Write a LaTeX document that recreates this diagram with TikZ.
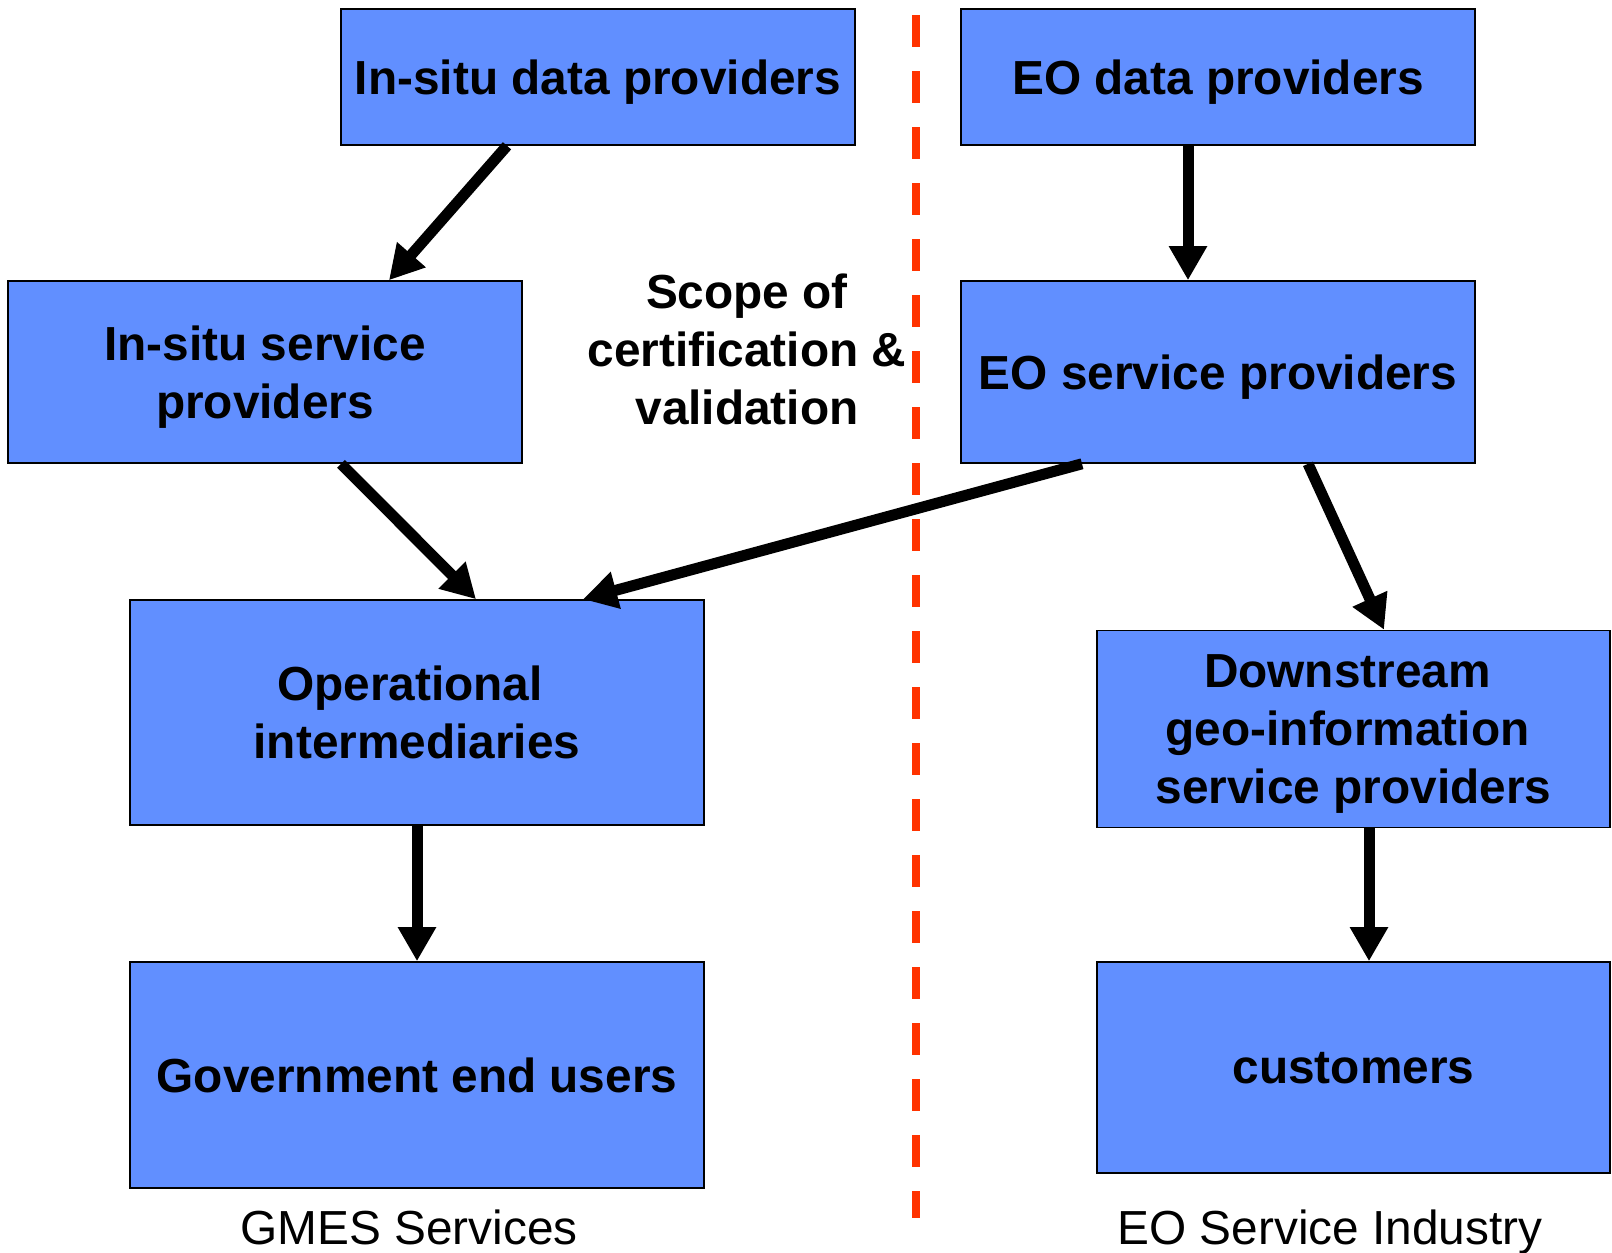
\documentclass[tikz,border=0pt]{standalone}
\usepackage{fontspec}
\setmainfont{Liberation Sans}
\usetikzlibrary{arrows.meta}
\definecolor{boxblue}{HTML}{618FFF}
\definecolor{dashred}{HTML}{FF3300}
\tikzset{
  box/.style={draw=black, line width=1.6pt, fill=boxblue, rectangle, inner sep=0pt,
    align=center, text depth=0pt, font=\fontsize{47.8}{58}\selectfont\bfseries},
  arr/.style={line width=11pt, -{Triangle[length=34pt,width=36pt]}},
  plaintext/.style={font=\fontsize{47.8}{58}\selectfont, align=center},
  divider/.style={draw=dashred, line width=8pt, dash pattern=on 32pt off 24pt}
}
\begin{document}
\begin{tikzpicture}[x=1pt,y=-1pt]
\useasboundingbox (0,0) rectangle (1612,1253);
% dashed divider
\coordinate (dtop) at (916,15);
\coordinate (dbot) at (916,1218);
\draw[divider] (dtop) -- (dbot);
% boxes
\node[box, minimum width=514pt, minimum height=136pt] (b1) at (598,77) {In-situ data providers};
\node[box, minimum width=514pt, minimum height=136pt] (b2) at (1218,77) {EO data providers};
\node[box, minimum width=514pt, minimum height=182pt] (b3) at (265,372) {In-situ service\\providers};
\node[box, minimum width=514pt, minimum height=182pt] (b4) at (1218,372) {EO service providers};
\node[box, minimum width=574pt, minimum height=225pt] (b5) at (417,712.5) {Operational\kern14pt\\intermediaries};
\node[box, minimum width=513pt, minimum height=197pt] (b6) at (1353.5,729) {Downstream\kern12pt\\geo-information\kern12pt\\service providers};
\node[box, minimum width=574pt, minimum height=226pt] (b7) at (417,1075) {Government end users};
\node[box, minimum width=513pt, minimum height=211pt] (b8) at (1353.5,1067.5) {customers};
% scope text
\node[plaintext, font=\fontsize{47.8}{58}\selectfont\bfseries, text depth=0pt] (scope) at (747,349) {Scope of\\certification \&\\validation};
% bottom labels
\node[plaintext, anchor=base] (gmes) at (409,1244) {GMES Services};
\node[plaintext, anchor=base] (eoind) at (1330,1244) {EO Service Industry};
% arrows
\draw[arr] ([xshift=-91pt]b1.south) -- ([xshift=124pt]b3.north);
\draw[arr] ([xshift=-30pt]b2.south) -- ([xshift=-30pt]b4.north);
\draw[arr] ([xshift=76pt]b3.south) -- ([xshift=59pt]b5.north);
\draw[arr] ([xshift=-136pt]b4.south) -- ([xshift=166pt]b5.north);
\draw[arr] ([xshift=90pt]b4.south) -- ([xshift=30.5pt]b6.north);
\draw[arr] (b5.south) -- (b7.north);
\draw[arr] ([xshift=15.5pt]b6.south) -- ([xshift=15.5pt]b8.north);
\end{tikzpicture}
\end{document}
